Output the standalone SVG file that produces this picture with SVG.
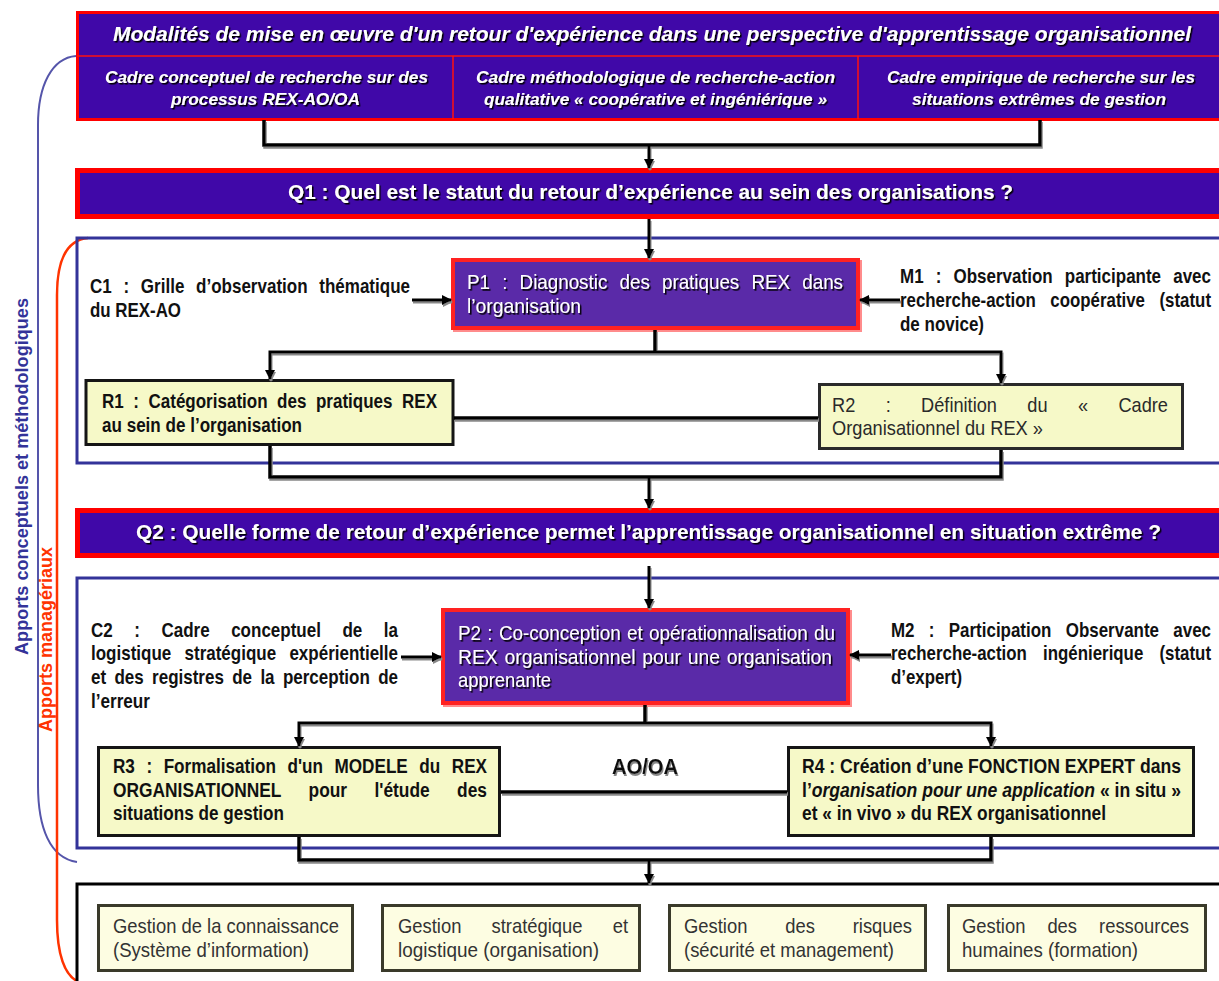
<svg xmlns="http://www.w3.org/2000/svg" width="1219" height="981" viewBox="0 0 1219 981">
<style>
text{font-family:"Liberation Sans",Arial,sans-serif}
.wt{fill:#fff;filter:url(#ts)}
.hd{font-style:italic;font-weight:bold}
.b{font-weight:bold}
.dk{fill:#111}
.gr{fill:#2a2a2a}
.bt{fill:#333}
.cm{font-weight:bold;fill:#111;font-size:17px}
.pt{fill:#fff;filter:url(#ts);font-size:18.9px}
.r1{font-weight:bold;fill:#111;font-size:17px}
.r2{fill:#2a2a2a;font-size:18.2px}
.r3{font-weight:bold;fill:#111;font-size:17.1px}
.r4{font-weight:bold;fill:#111;font-size:17.5px}
.bb{fill:#333;font-size:18.4px}
.head{fill:#4008a8;stroke:#ff0000}
.pbox{fill:#5a2ca8;stroke:#ff2020;stroke-width:4;filter:url(#pg)}
.rbox{fill:#f6f9c8;stroke:#151515;stroke-width:3}
.bbox{fill:#fdfde2;stroke:#3a3a2a;stroke-width:3}
.frame{fill:none;stroke:#333399;stroke-width:3}
.con{fill:none;stroke:#000;stroke-width:3.5}
.arr{fill:none;stroke:#000;stroke-width:3;marker-end:url(#ah)}
</style>
<defs>
<marker id="ah" viewBox="0 0 10 10" refX="9" refY="5" markerWidth="10" markerHeight="10" markerUnits="userSpaceOnUse" orient="auto"><path d="M0,0 L10,5 L0,10 z" fill="#000"/></marker>
<filter id="ts" x="-5%" y="-30%" width="110%" height="160%"><feDropShadow dx="1.5" dy="1.5" stdDeviation="0" flood-color="#000"/></filter>
<filter id="pg" x="-5%" y="-5%" width="110%" height="115%"><feDropShadow dx="2" dy="2" stdDeviation="0" flood-color="#ff8c8c"/></filter>
<filter id="cs" x="-5%" y="-20%" width="110%" height="160%"><feDropShadow dx="1" dy="2" stdDeviation="0" flood-color="#888"/></filter>
</defs>

<g id="braces">
<path d="M76,56 C52,58 38,85 38,125 V785 C38,828 50,858 77,862" fill="none" stroke="#5555aa" stroke-width="2"/>
<path d="M88,238 C66,240 57,262 57,295 V920 C57,955 65,975 77,981" fill="none" stroke="#ff3300" stroke-width="2.5"/>
<text transform="translate(28,655) rotate(-90)" font-size="18" class="b" fill="#333399" textLength="357" lengthAdjust="spacingAndGlyphs">Apports conceptuels et méthodologiques</text>
<text transform="translate(52,732) rotate(-90)" font-size="18" class="b" fill="#ff3300" textLength="185" lengthAdjust="spacingAndGlyphs">Apports managériaux</text>
</g>

<g id="frames">
<path class="frame" d="M1222,238 H77 V463 H1222"/>
<path class="frame" d="M1222,578 H77 V848 H1222"/>
<path d="M1222,884 H77 V985" fill="none" stroke="#000" stroke-width="3"/>
</g>

<g id="header">
<rect class="head" x="77.5" y="12.5" width="1150" height="107" stroke-width="3"/>
<path d="M77,56 H1222 M453,56 V119 M858,56 V119" stroke="#ff1010" stroke-width="1.5" fill="none"/>
<text class="wt hd" x="113" y="41" font-size="21" textLength="1078" lengthAdjust="spacingAndGlyphs">Modalités de mise en œuvre d'un retour d'expérience dans une perspective d'apprentissage organisationnel</text>
<text class="wt hd" x="105" y="83" font-size="17" textLength="323" lengthAdjust="spacingAndGlyphs">Cadre conceptuel de recherche sur des</text>
<text class="wt hd" x="171" y="105" font-size="17" textLength="189" lengthAdjust="spacingAndGlyphs">processus REX-AO/OA</text>
<text class="wt hd" x="476" y="83" font-size="17" textLength="359" lengthAdjust="spacingAndGlyphs">Cadre méthodologique de recherche-action</text>
<text class="wt hd" x="484" y="105" font-size="17" textLength="343" lengthAdjust="spacingAndGlyphs">qualitative « coopérative et ingéniérique »</text>
<text class="wt hd" x="887" y="83" font-size="17" textLength="308" lengthAdjust="spacingAndGlyphs">Cadre empirique de recherche sur les</text>
<text class="wt hd" x="912" y="105" font-size="17" textLength="254" lengthAdjust="spacingAndGlyphs">situations extrêmes de gestion</text>
</g>

<g id="q1">
<rect class="head" x="77.5" y="170.5" width="1150" height="46" stroke-width="5"/>
<text class="wt b" x="288" y="199" font-size="21" textLength="725" lengthAdjust="spacingAndGlyphs">Q1 : Quel est le statut du retour d’expérience au sein des organisations ?</text>
</g>

<g id="c1">
<text class="cm" transform="translate(90,293) scale(1,1.235)" style="word-spacing:7px" textLength="320" lengthAdjust="spacingAndGlyphs">C1 : Grille d’observation thématique</text>
<text class="cm" transform="translate(90,317) scale(1,1.235)" textLength="91" lengthAdjust="spacingAndGlyphs">du REX-AO</text>
</g>

<g id="p1">
<rect class="pbox" x="453" y="260" width="405" height="68"/>
<text class="pt" transform="translate(467,289) scale(1,1.111)" style="word-spacing:7px" textLength="376" lengthAdjust="spacingAndGlyphs">P1 : Diagnostic des pratiques REX dans</text>
<text class="pt" transform="translate(467,313) scale(1,1.111)" textLength="114" lengthAdjust="spacingAndGlyphs">l’organisation</text>
</g>

<g id="m1">
<text class="cm" transform="translate(900,283) scale(1,1.235)" style="word-spacing:7.4px" textLength="311" lengthAdjust="spacingAndGlyphs">M1 : Observation participante avec</text>
<text class="cm" transform="translate(900,307) scale(1,1.235)" style="word-spacing:9.9px" textLength="311" lengthAdjust="spacingAndGlyphs">recherche-action coopérative (statut</text>
<text class="cm" transform="translate(900,331) scale(1,1.235)" textLength="84" lengthAdjust="spacingAndGlyphs">de novice)</text>
</g>

<g id="r1">
<rect class="rbox" x="86" y="380.5" width="367" height="64"/>
<text class="r1" transform="translate(102,408) scale(1,1.176)" style="word-spacing:4.8px" textLength="335" lengthAdjust="spacingAndGlyphs">R1 : Catégorisation des pratiques REX</text>
<text class="r1" transform="translate(102,432) scale(1,1.176)" textLength="200" lengthAdjust="spacingAndGlyphs">au sein de l’organisation</text>
</g>

<g id="r2">
<rect class="rbox" x="819.5" y="384.5" width="363" height="64" style="stroke:#2a2a2a"/>
<text class="r2" transform="translate(832,412) scale(1,1.099)" style="word-spacing:25.3px" textLength="336" lengthAdjust="spacingAndGlyphs">R2 : Définition du « Cadre</text>
<text class="r2" transform="translate(832,435) scale(1,1.099)" textLength="211" lengthAdjust="spacingAndGlyphs">Organisationnel du REX »</text>
</g>

<g id="q2">
<rect class="head" x="77.5" y="510.5" width="1150" height="45" stroke-width="5"/>
<text class="wt b" x="136" y="539" font-size="21" textLength="1025" lengthAdjust="spacingAndGlyphs">Q2 : Quelle forme de retour d’expérience permet l’apprentissage organisationnel en situation extrême ?</text>
</g>

<g id="c2">
<text class="cm" transform="translate(91,637) scale(1,1.235)" style="word-spacing:16.8px" textLength="307" lengthAdjust="spacingAndGlyphs">C2 : Cadre conceptuel de la</text>
<text class="cm" transform="translate(91,660) scale(1,1.235)" style="word-spacing:8.6px" textLength="307" lengthAdjust="spacingAndGlyphs">logistique stratégique expérientielle</text>
<text class="cm" transform="translate(91,684) scale(1,1.235)" style="word-spacing:3.6px" textLength="307" lengthAdjust="spacingAndGlyphs">et des registres de la perception de</text>
<text class="cm" transform="translate(91,708) scale(1,1.235)" textLength="59" lengthAdjust="spacingAndGlyphs">l’erreur</text>
</g>

<g id="p2">
<rect class="pbox" x="443" y="610" width="405" height="93"/>
<text class="pt" transform="translate(458,640) scale(1,1.111)" style="word-spacing:1px" textLength="377" lengthAdjust="spacingAndGlyphs">P2 : Co-conception et opérationnalisation du</text>
<text class="pt" transform="translate(458,664) scale(1,1.111)" style="word-spacing:1.3px" textLength="374" lengthAdjust="spacingAndGlyphs">REX organisationnel pour une organisation</text>
<text class="pt" transform="translate(458,687) scale(1,1.111)" textLength="93" lengthAdjust="spacingAndGlyphs">apprenante</text>
</g>

<g id="m2">
<text class="cm" transform="translate(891,637) scale(1,1.235)" style="word-spacing:9.6px" textLength="320" lengthAdjust="spacingAndGlyphs">M2 : Participation Observante avec</text>
<text class="cm" transform="translate(891,660) scale(1,1.235)" style="word-spacing:11.6px" textLength="320" lengthAdjust="spacingAndGlyphs">recherche-action ingénierique (statut</text>
<text class="cm" transform="translate(891,684) scale(1,1.235)" textLength="71" lengthAdjust="spacingAndGlyphs">d’expert)</text>
</g>

<g id="r3">
<rect class="rbox" x="98.5" y="747.5" width="401" height="88"/>
<text class="r3" transform="translate(113,773) scale(1,1.17)" style="word-spacing:6.75px" textLength="374" lengthAdjust="spacingAndGlyphs">R3 : Formalisation d'un MODELE du REX</text>
<text class="r3" transform="translate(113,797) scale(1,1.17)" style="word-spacing:22.2px" textLength="374" lengthAdjust="spacingAndGlyphs">ORGANISATIONNEL pour l'étude des</text>
<text class="r3" transform="translate(113,820) scale(1,1.17)" textLength="171" lengthAdjust="spacingAndGlyphs">situations de gestion</text>
</g>

<g id="aooa">
<text class="dk b" x="612" y="774" font-size="22" style="filter:url(#cs)" textLength="66" lengthAdjust="spacingAndGlyphs">AO/OA</text>
</g>

<g id="r4">
<rect class="rbox" x="788.5" y="747.5" width="405" height="88"/>
<text class="r4" transform="translate(802,773) scale(1,1.143)" textLength="379" lengthAdjust="spacingAndGlyphs">R4 : Création d’une FONCTION EXPERT dans</text>
<text class="r4" transform="translate(802,797) scale(1,1.143)" textLength="379" lengthAdjust="spacingAndGlyphs">l’<tspan font-style="italic">organisation pour une application</tspan> « in situ »</text>
<text class="r4" transform="translate(802,820) scale(1,1.143)" textLength="304" lengthAdjust="spacingAndGlyphs">et « in vivo » du REX organisationnel</text>
</g>

<g id="b1">
<rect class="bbox" x="98.5" y="905.5" width="254" height="65"/>
<text class="bb" transform="translate(113,933) scale(1,1.087)" textLength="226" lengthAdjust="spacingAndGlyphs">Gestion de la connaissance</text>
<text class="bb" transform="translate(113,957) scale(1,1.087)" textLength="196" lengthAdjust="spacingAndGlyphs">(Système d’information)</text>
</g>
<g id="b2">
<rect class="bbox" x="382.5" y="905.5" width="257" height="65"/>
<text class="bb" transform="translate(398,933) scale(1,1.087)" style="word-spacing:25px" textLength="230" lengthAdjust="spacingAndGlyphs">Gestion stratégique et</text>
<text class="bb" transform="translate(398,957) scale(1,1.087)" textLength="201" lengthAdjust="spacingAndGlyphs">logistique (organisation)</text>
</g>
<g id="b3">
<rect class="bbox" x="669.5" y="905.5" width="256" height="65"/>
<text class="bb" transform="translate(684,933) scale(1,1.087)" style="word-spacing:32.7px" textLength="228" lengthAdjust="spacingAndGlyphs">Gestion des risques</text>
<text class="bb" transform="translate(684,957) scale(1,1.087)" textLength="210" lengthAdjust="spacingAndGlyphs">(sécurité et management)</text>
</g>
<g id="b4">
<rect class="bbox" x="948.5" y="905.5" width="257" height="65"/>
<text class="bb" transform="translate(962,933) scale(1,1.087)" style="word-spacing:16.9px" textLength="227" lengthAdjust="spacingAndGlyphs">Gestion des ressources</text>
<text class="bb" transform="translate(962,957) scale(1,1.087)" textLength="176" lengthAdjust="spacingAndGlyphs">humaines (formation)</text>
</g>

<g id="connectors" style="filter:url(#cs)">
<path class="con" d="M264,120 V145 H1040 V120"/>
<path class="arr" d="M649,145 V168"/>
<path class="arr" d="M649,219 V258"/>
<path class="arr" d="M412,300 H451"/>
<path class="arr" d="M900,300 H860"/>
<path class="con" d="M655,330 V352"/>
<path class="arr" d="M655,352 H270 V379"/>
<path class="arr" d="M655,352 H1001 V383"/>
<path class="con" d="M454,418 H818"/>
<path class="con" d="M270,446 V477 H1001 V450"/>
<path class="arr" d="M649,477 V508"/>
<path class="arr" d="M649,566 V608"/>
<path class="arr" d="M401,657 H441"/>
<path class="arr" d="M891,655 H850"/>
<path class="con" d="M645,705 V723"/>
<path class="arr" d="M645,723 H299 V746"/>
<path class="arr" d="M645,723 H991 V746"/>
<path class="con" d="M501,792 H787"/>
<path class="con" d="M299,837 V860 H991 V837"/>
<path class="arr" d="M649,860 V883"/>
</g>
</svg>
